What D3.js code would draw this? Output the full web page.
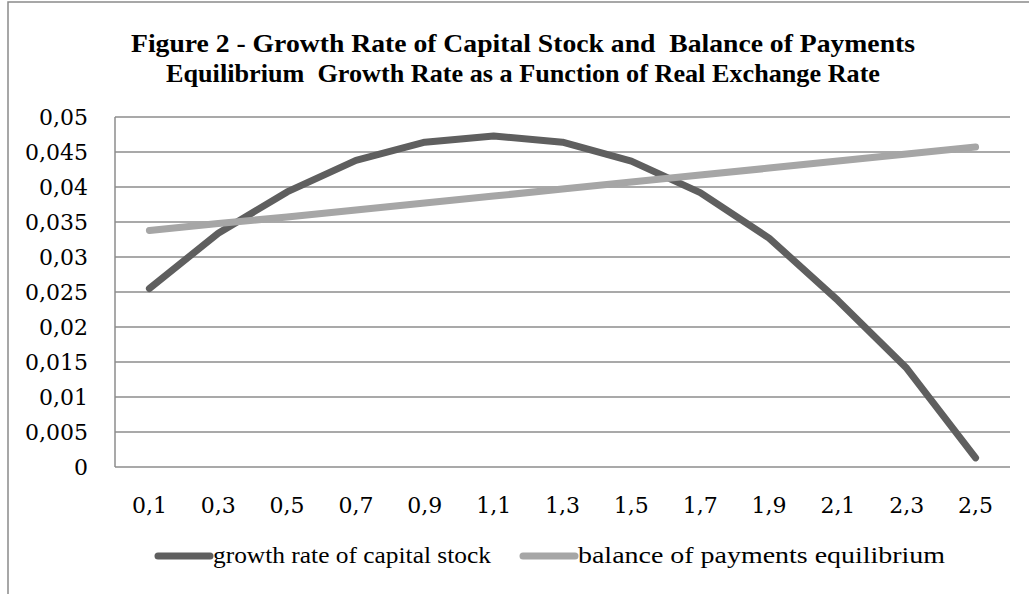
<!DOCTYPE html>
<html lang="en">
<head>
    <meta charset="UTF-8">
    <title>Figure 2</title>
    <style>
        body { margin: 0; background: #fff; }
        text { fill: #000; }
    </style>
</head>
<body>
    <svg width="1029" height="594"></svg>

    <script src="https://d3js.org/d3.v7.min.js"></script>
    <script>
        var categories = ['0,1', '0,3', '0,5', '0,7', '0,9', '1,1', '1,3', '1,5', '1,7', '1,9', '2,1', '2,3', '2,5'];
        var growthRate = [0.0255, 0.0334, 0.0393, 0.0438, 0.0464, 0.0473, 0.0464, 0.0437, 0.0392, 0.0327, 0.0238, 0.0141, 0.0013];
        var bopRate = [0.0338, 0.0348, 0.0357, 0.0367, 0.0377, 0.0387, 0.0397, 0.0407, 0.0417, 0.0427, 0.0437, 0.0447, 0.0457];
        var yTicks = [0, 0.005, 0.01, 0.015, 0.02, 0.025, 0.03, 0.035, 0.04, 0.045, 0.05];
        var seriesNames = ['growth rate of capital stock', 'balance of payments equilibrium'];
        var seriesColors = ['#5f5f5f', '#a6a6a6'];

        var serif = '"Liberation Serif", "DejaVu Serif", serif';
        var tickFont = '"DejaVu Serif", serif';

        var svg = d3.select('svg');

        // outer chart frame (only left and top edges show in the picture)
        svg.append('rect')
            .attr('x', 8).attr('y', 2)
            .attr('width', 1040).attr('height', 620)
            .attr('fill', 'none')
            .attr('stroke', '#8a8a8a')
            .attr('stroke-width', 1.5);

        var title = ['Figure 2 - Growth Rate of Capital Stock and  Balance of Payments',
                     'Equilibrium  Growth Rate as a Function of Real Exchange Rate'];
        var titleW = [784, 714];
        svg.selectAll('.title').data(title).enter().append('text')
            .attr('class', 'title')
            .attr('x', 523)
            .attr('y', function(d, i) { return 52 + i * 30; })
            .attr('text-anchor', 'middle')
            .attr('textLength', function(d, i) { return titleW[i]; })
            .attr('lengthAdjust', 'spacingAndGlyphs')
            .style('font-family', serif)
            .style('font-size', '25px')
            .style('font-weight', 'bold')
            .style('white-space', 'pre')
            .text(function(d) { return d; });

        var plotL = 115, plotR = 1010, plotT = 117, plotB = 467;

        var x = d3.scaleBand().domain(categories).range([plotL, plotR]);
        var y = d3.scaleLinear().domain([0, 0.05]).range([plotB, plotT]);

        // gridlines
        svg.append('g')
            .selectAll('line').data(yTicks).enter().append('line')
            .attr('x1', plotL).attr('x2', plotR)
            .attr('y1', function(d) { return y(d); })
            .attr('y2', function(d) { return y(d); })
            .attr('stroke', '#8c8c8c')
            .attr('stroke-width', 1.5);

        svg.append('line')
            .attr('x1', plotL).attr('x2', plotL)
            .attr('y1', plotT).attr('y2', plotB)
            .attr('stroke', '#8c8c8c')
            .attr('stroke-width', 1.5);

        // y axis labels
        var yAxis = d3.axisLeft(y).tickValues(yTicks).tickSize(0).tickPadding(27)
            .tickFormat(function(d) { return String(+d.toFixed(3)).replace('.', ','); });
        var gy = svg.append('g').attr('transform', 'translate(' + plotL + ',0)').call(yAxis);
        gy.select('.domain').remove();
        gy.selectAll('text')
            .style('font-family', tickFont)
            .style('font-size', '22px')
            .attr('fill', '#000');

        // x axis labels
        var xAxis = d3.axisBottom(x).tickSize(0).tickPadding(30);
        var gx = svg.append('g').attr('transform', 'translate(0,' + plotB + ')').call(xAxis);
        gx.select('.domain').remove();
        gx.selectAll('text')
            .style('font-family', tickFont)
            .style('font-size', '22px')
            .attr('fill', '#000');

        var line = d3.line()
            .x(function(d, i) { return x(categories[i]) + x.bandwidth() / 2; })
            .y(function(d) { return y(d); });

        [growthRate, bopRate].forEach(function(s, k) {
            svg.append('path')
                .datum(s)
                .attr('d', line)
                .attr('fill', 'none')
                .attr('stroke', seriesColors[k])
                .attr('stroke-width', 7)
                .attr('stroke-linecap', 'round')
                .attr('stroke-linejoin', 'round');
        });

        // legend
        var legendX = [158, 523];
        var legendW = [278, 367];
        seriesNames.forEach(function(name, k) {
            svg.append('line')
                .attr('x1', legendX[k]).attr('x2', legendX[k] + 52)
                .attr('y1', 556).attr('y2', 556)
                .attr('stroke', seriesColors[k])
                .attr('stroke-width', 7)
                .attr('stroke-linecap', 'round');
            svg.append('text')
                .attr('x', legendX[k] + 55)
                .attr('y', 563)
                .attr('textLength', legendW[k])
                .attr('lengthAdjust', 'spacingAndGlyphs')
                .style('font-family', serif)
                .style('font-size', '24px')
                .text(name);
        });
    </script>
</body>
</html>
